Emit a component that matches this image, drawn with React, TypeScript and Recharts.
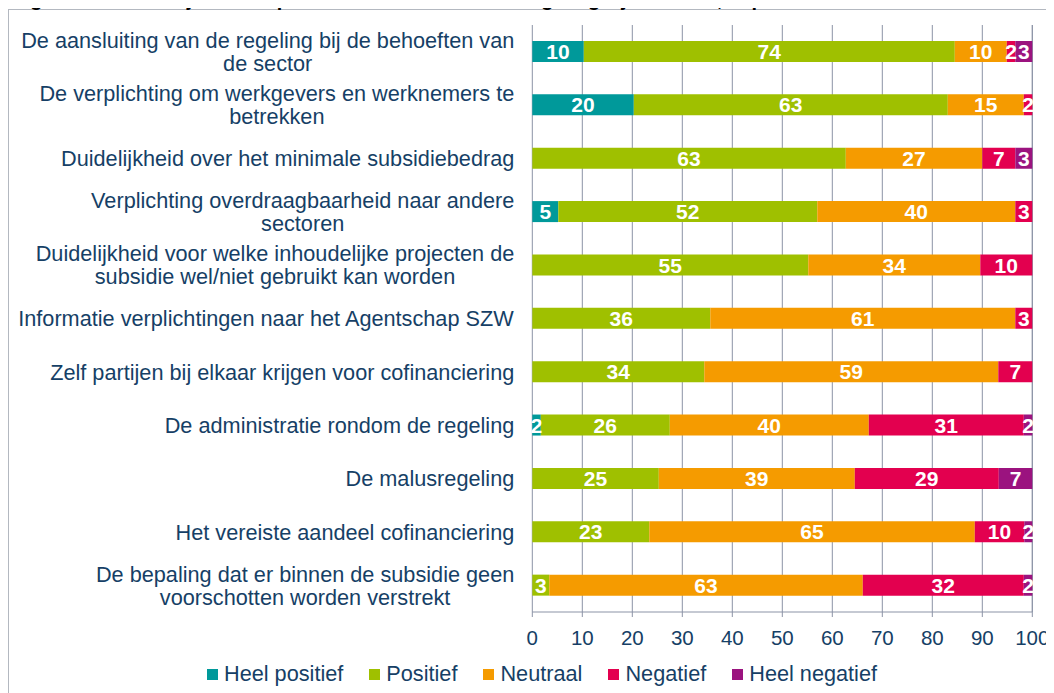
import React from 'react';
import { BarChart, Bar, XAxis, YAxis, CartesianGrid, Legend, LabelList } from 'recharts';

const categories: string[] = [
  'De aansluiting van de regeling bij de behoeften van\nde sector',
  'De verplichting om werkgevers en werknemers te\nbetrekken',
  'Duidelijkheid over het minimale subsidiebedrag',
  'Verplichting overdraagbaarheid naar andere\nsectoren',
  'Duidelijkheid voor welke inhoudelijke projecten de\nsubsidie wel/niet gebruikt kan worden',
  'Informatie verplichtingen naar het Agentschap SZW',
  'Zelf partijen bij elkaar krijgen voor cofinanciering',
  'De administratie rondom de regeling',
  'De malusregeling',
  'Het vereiste aandeel cofinanciering',
  'De bepaling dat er binnen de subsidie geen\nvoorschotten worden verstrekt',
];

const heelPositief: (number | null)[] = [10.3, 20.3, null, 5.2, null, null, null, 1.7, null, null, null];
const positief: (number | null)[] = [74.2, 62.8, 62.7, 51.8, 55.2, 35.6, 34.4, 25.8, 25.3, 23.4, 3.4];
const neutraal: (number | null)[] = [10.4, 15.2, 27.3, 39.6, 34.4, 61.0, 58.8, 39.8, 39.2, 65.1, 62.7];
const negatief: (number | null)[] = [1.7, 1.7, 6.6, 3.4, 10.4, 3.4, 6.8, 31.0, 28.8, 9.9, 32.2];
const heelNegatief: (number | null)[] = [3.4, null, 3.4, null, null, null, null, 1.7, 6.7, 1.6, 1.7];

const seriesNames = ['Heel positief', 'Positief', 'Neutraal', 'Negatief', 'Heel negatief'];
const xTicks = [0, 10, 20, 30, 40, 50, 60, 70, 80, 90, 100];
const boundaryTicks = [0, 1, 2, 3, 4, 5, 6, 7, 8, 9, 10, 11];

const COLORS = ['#00999A', '#9FC000', '#F59B00', '#E3004F', '#9B137F'];
const TEXT = '#163F66';
const GRID = '#8B93A6';
const FONT = '"Liberation Sans", Arial, sans-serif';
const LABEL_SIZE = 21.7;

const data = categories.map((name, i) => ({
  name,
  hp: heelPositief[i],
  p: positief[i],
  n: neutraal[i],
  neg: negatief[i],
  hn: heelNegatief[i],
}));
const keys = ['hp', 'p', 'n', 'neg', 'hn'];

let ctx: CanvasRenderingContext2D | null = null;
const measure = (s: string, size: number) => {
  try {
    if (!ctx) {
      const c = document.createElement('canvas');
      ctx = c.getContext('2d');
    }
    if (ctx) {
      ctx.font = `${size}px ${FONT}`;
      return ctx.measureText(s).width;
    }
  } catch (e) {}
  return s.length * size * 0.5;
};

const CatTick = (props: any) => {
  const { x, y, payload } = props;
  const lines = String(payload.value).split('\n');
  const w = Math.max(...lines.map((l) => measure(l, LABEL_SIZE)));
  const right = x - 18;
  const cx = right - w / 2;
  const lh = 23;
  const startY = y - ((lines.length - 1) * lh) / 2;
  return (
    <g>
      <text textAnchor="middle" fill={TEXT} fontSize={LABEL_SIZE} fontFamily={FONT}>
        {lines.map((l, i) => (
          <tspan key={i} x={cx} y={startY + i * lh} dy="0.355em">
            {l}
          </tspan>
        ))}
      </text>
    </g>
  );
};

const renderLabel = (props: any) => {
  const { x, y, width, height, value } = props;
  if (value == null || Number(value) === 0) return null;
  return (
    <text
      x={Number(x) + Number(width) / 2}
      y={Number(y) + Number(height) / 2}
      dy="0.36em"
      textAnchor="middle"
      fill="#ffffff"
      fontSize={21}
      fontWeight="bold"
      fontFamily={FONT}
    >
      {Math.round(Number(value))}
    </text>
  );
};

const LegendContent = (props: any) => {
  const payload = [...(props.payload || [])].sort(
    (a: any, b: any) => seriesNames.indexOf(a.value) - seriesNames.indexOf(b.value)
  );
  return (
    <div
      style={{
        display: 'flex',
        justifyContent: 'center',
        alignItems: 'center',
        fontFamily: FONT,
        fontSize: LABEL_SIZE,
        color: TEXT,
        lineHeight: '24px',
        whiteSpace: 'nowrap',
      }}
    >
      {payload.map((p: any, i: number) => (
        <div
          key={i}
          style={{ display: 'flex', alignItems: 'center', marginRight: i < payload.length - 1 ? 26 : 0 }}
        >
          <span style={{ display: 'inline-block', width: 11, height: 11, background: p.color, marginRight: 6 }} />
          <span>{p.value}</span>
        </div>
      ))}
    </div>
  );
};

const EmptyTick = () => <g />;

export default function App() {
  return (
    <div style={{ position: 'relative', width: 1046, height: 685 }}>
      <style>{'body{overflow:hidden}'}</style>
      <div
        style={{
          position: 'absolute',
          left: 0,
          top: 1,
          width: 1046,
          height: 684,
          borderTop: '1px solid #b3b8c0',
          borderLeft: '1px solid #b3b8c0',
          boxSizing: 'border-box',
        }}
      />
      <div
        style={{
          position: 'absolute',
          left: 4.6,
          top: -19,
          fontFamily: FONT,
          fontSize: 20,
          fontWeight: 'bold',
          lineHeight: '20px',
          whiteSpace: 'nowrap',
          color: '#000',
        }}
      >
        Figuur 4.3
      </div>
      <div
        style={{
          position: 'absolute',
          left: 154.5,
          top: -19,
          fontFamily: FONT,
          fontSize: 20,
          fontWeight: 'bold',
          lineHeight: '20px',
          whiteSpace: 'nowrap',
          color: '#000',
        }}
      >
        Wijze waarop de voorwaarden van de regeling zijn ervaren, in procenten
      </div>
      <BarChart
        width={1046}
        height={685}
        data={data}
        layout="vertical"
        margin={{ top: 17, right: 21.7, bottom: 51, left: 0 }}
        style={{ position: 'absolute', left: 0, top: 0 }}
      >
        <CartesianGrid horizontal={false} stroke={GRID} yAxisId="cat" />
        <XAxis
          type="number"
          domain={[0, 100]}
          ticks={xTicks}
          interval={0}
          tickSize={5}
          tickMargin={13}
          height={30}
          stroke={GRID}
          tick={{ fill: TEXT, fontSize: 20.5, fontFamily: FONT }}
        />
        <YAxis
          yAxisId="b"
          type="number"
          orientation="left"
          domain={[0, 11]}
          ticks={boundaryTicks}
          interval={0}
          width={0}
          tickSize={6}
          tick={EmptyTick}
          stroke={GRID}
          allowDataOverflow
        />
        <YAxis
          yAxisId="cat"
          type="category"
          dataKey="name"
          width={524.3}
          tickLine={false}
          axisLine={false}
          tickSize={0}
          tickMargin={0}
          interval={0}
          tick={CatTick}
        />
        {keys.map((k, i) => (
          <Bar
            key={k}
            yAxisId="cat"
            dataKey={k}
            name={seriesNames[i]}
            stackId="s"
            fill={COLORS[i]}
            barSize={21}
            isAnimationActive={false}
          >
            <LabelList dataKey={k} content={renderLabel} />
          </Bar>
        ))}
        <Legend
          layout="horizontal"
          verticalAlign="middle"
          align="center"
          content={LegendContent}
          wrapperStyle={{ top: 654, left: 0, width: 1046, paddingLeft: 22, boxSizing: 'border-box' }}
        />
      </BarChart>
    </div>
  );
}
